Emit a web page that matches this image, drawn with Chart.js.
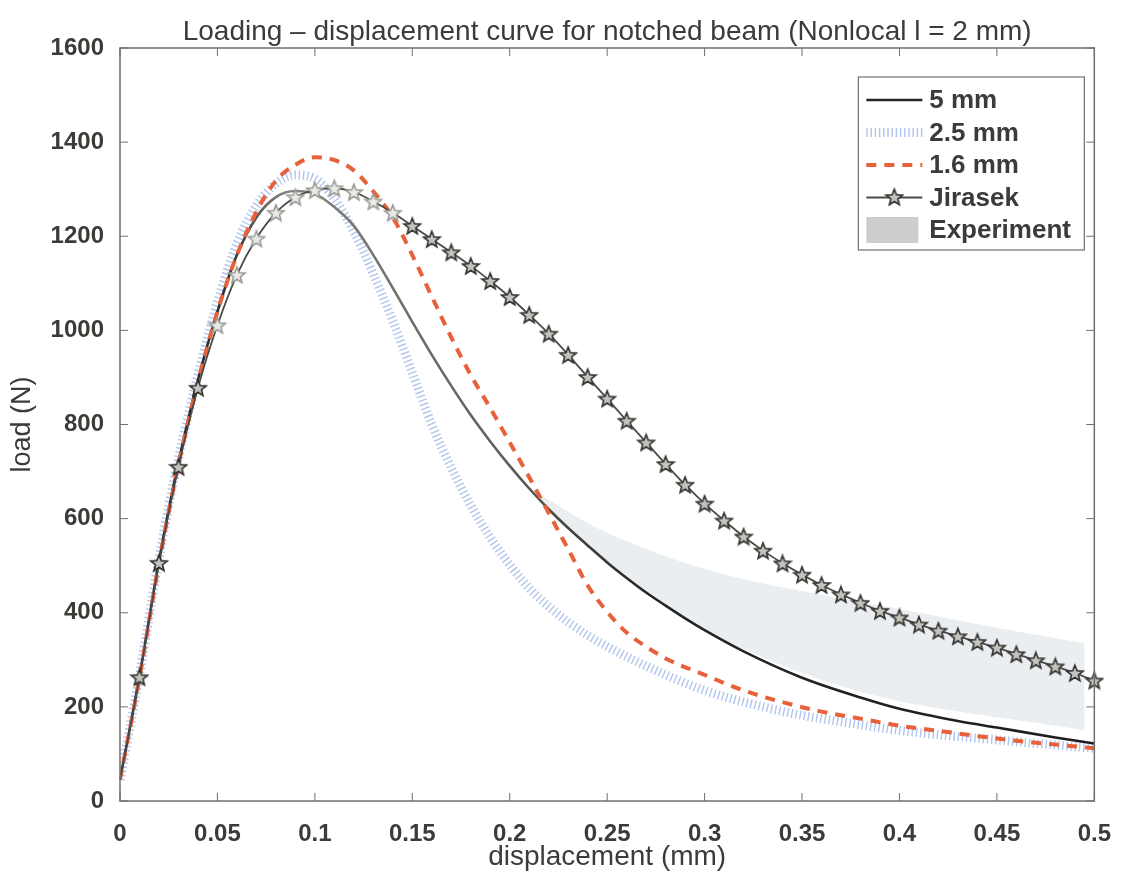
<!DOCTYPE html>
<html>
<head>
<meta charset="utf-8">
<title>Loading - displacement curve</title>
<script src="https://cdn.jsdelivr.net/npm/chart.js@4"></script>
<style>
  html, body { margin: 0; padding: 0; background: #fff; }
</style>
</head>
<body>
<canvas id="loadChart" width="1122" height="874"></canvas>
<script>
// values (displacement in mm, load in N)
var disp5 = [0, 0.01, 0.02, 0.03, 0.04, 0.05, 0.06, 0.07, 0.08, 0.09, 0.10, 0.11, 0.12, 0.13, 0.14, 0.15, 0.16, 0.17, 0.18, 0.19, 0.20, 0.21, 0.22, 0.23, 0.24, 0.25, 0.26, 0.27, 0.28, 0.29, 0.30, 0.32, 0.35, 0.38, 0.40, 0.43, 0.45, 0.48, 0.50]
var load5 = [45, 265, 510, 720, 895, 1040, 1160, 1240, 1283, 1296, 1290, 1262, 1222, 1160, 1090, 1018, 948, 882, 820, 764, 712, 664, 620, 580, 543, 507, 474, 443, 415, 388, 363, 318, 262, 220, 196, 170, 156, 135, 122]

var disp25 = [0, 0.01, 0.02, 0.03, 0.04, 0.05, 0.06, 0.07, 0.08, 0.09, 0.10, 0.11, 0.12, 0.13, 0.14, 0.15, 0.16, 0.17, 0.18, 0.19, 0.20, 0.21, 0.22, 0.23, 0.24, 0.25, 0.27, 0.30, 0.33, 0.35, 0.38, 0.40, 0.43, 0.45, 0.48, 0.50]
var load25 = [45, 268, 515, 728, 905, 1060, 1185, 1265, 1312, 1330, 1322, 1280, 1210, 1120, 1020, 910, 800, 708, 628, 560, 502, 452, 413, 380, 352, 328, 287, 235, 200, 182, 162, 150, 137, 130, 119, 112]

var disp16 = [0, 0.01, 0.02, 0.03, 0.04, 0.05, 0.06, 0.07, 0.08, 0.09, 0.10, 0.11, 0.12, 0.13, 0.14, 0.15, 0.16, 0.17, 0.18, 0.19, 0.20, 0.21, 0.22, 0.23, 0.24, 0.25, 0.26, 0.27, 0.28, 0.30, 0.32, 0.34, 0.36, 0.38, 0.40, 0.42, 0.44, 0.46, 0.48, 0.50]
var load16 = [45, 262, 505, 715, 890, 1040, 1160, 1252, 1318, 1352, 1368, 1362, 1340, 1295, 1240, 1160, 1072, 985, 905, 835, 762, 688, 612, 535, 458, 402, 358, 328, 303, 268, 235, 210, 190, 175, 160, 149, 138, 128, 120, 112]

var dispJir = [0, 0.01, 0.02, 0.03, 0.04, 0.05, 0.06, 0.07, 0.08, 0.09, 0.10, 0.11, 0.12, 0.13, 0.14, 0.15, 0.16, 0.17, 0.18, 0.19, 0.20, 0.21, 0.22, 0.23, 0.24, 0.25, 0.26, 0.27, 0.28, 0.29, 0.30, 0.31, 0.32, 0.33, 0.34, 0.35, 0.36, 0.37, 0.38, 0.39, 0.40, 0.41, 0.42, 0.43, 0.44, 0.45, 0.46, 0.47, 0.48, 0.49, 0.50]
var loadJir = [45, 263, 506, 710, 878, 1011, 1118, 1195, 1250, 1283, 1298, 1302, 1294, 1274, 1250, 1222, 1194, 1166, 1137, 1105, 1071, 1033, 993, 948, 901, 855, 808, 762, 716, 672, 632, 596, 562, 532, 505, 481, 459, 439, 421, 404, 390, 375, 362, 350, 338, 326, 312, 299, 286, 272, 256]

var dispExp = [0.21, 0.22, 0.24, 0.26, 0.28, 0.30, 0.33, 0.35, 0.38, 0.40, 0.43, 0.45, 0.48, 0.495]
var expUpper = [668, 640, 590, 552, 520, 493, 462, 446, 423, 408, 384, 368, 346, 335]
var expLower = [664, 620, 543, 474, 415, 363, 305, 272, 232, 212, 190, 178, 160, 150]

var xTicks = [0, 0.05, 0.1, 0.15, 0.2, 0.25, 0.3, 0.35, 0.4, 0.45, 0.5]
var yTicks = [0, 200, 400, 600, 800, 1000, 1200, 1400, 1600]

var textColor = '#3a3c38'
var fontFamily = "'Liberation Sans', Arial, Helvetica, sans-serif"

function toPoints(xs, ys){
    return xs.map(function(x, i){ return {x: x, y: ys[i]} })
}

// five point star marker like matlab 'p'
function makeStar(fill, stroke){
    var c = document.createElement('canvas')
    c.width = 20
    c.height = 20
    var g = c.getContext('2d')
    g.beginPath()
    for (var i = 0; i < 10; i++){
        var r = (i % 2 == 0) ? 8.5 : 3.7
        var a = -Math.PI / 2 + i * Math.PI / 5
        var px = 10 + r * Math.cos(a)
        var py = 10.8 + r * Math.sin(a)
        if (i == 0) g.moveTo(px, py)
        else g.lineTo(px, py)
    }
    g.closePath()
    g.fillStyle = fill
    g.fill()
    g.lineWidth = 1.6
    g.strokeStyle = stroke
    g.stroke()
    return c
}
var darkStar = makeStar('#c4c4be', '#2f2f2d')
var lightStar = makeStar('#ebebe6', '#9a9a96')

// the scan is faded round the peak, so the 5 mm line goes grey there
function fadedLine(ctx){
    var chart = ctx.chart
    if (!chart.chartArea) return '#262626'
    var xs = chart.scales.x
    var g = chart.ctx.createLinearGradient(xs.getPixelForValue(0), 0, xs.getPixelForValue(0.5), 0)
    g.addColorStop(0, '#262626')
    g.addColorStop(0.11, '#2e2e2e')
    g.addColorStop(0.17, '#85857f')
    g.addColorStop(0.40, '#5e5e5a')
    g.addColorStop(0.54, '#262626')
    g.addColorStop(1, '#1e1e1e')
    return g
}

var framePlugin = {
    id: 'frame',
    afterDatasetsDraw: function(chart){
        var ctx = chart.ctx
        var a = chart.chartArea
        var xs = chart.scales.x
        var ys = chart.scales.y
        ctx.save()
        ctx.strokeStyle = '#6f6f6b'
        ctx.lineWidth = 1.5
        ctx.strokeRect(a.left, a.top, a.right - a.left, a.bottom - a.top)
        ctx.lineWidth = 1
        ctx.beginPath()
        xs.ticks.forEach(function(t){
            var px = xs.getPixelForValue(t.value)
            ctx.moveTo(px, a.bottom); ctx.lineTo(px, a.bottom - 8)
            ctx.moveTo(px, a.top); ctx.lineTo(px, a.top + 8)
        })
        ys.ticks.forEach(function(t){
            var py = ys.getPixelForValue(t.value)
            ctx.moveTo(a.left, py); ctx.lineTo(a.left + 8, py)
            ctx.moveTo(a.right, py); ctx.lineTo(a.right - 8, py)
        })
        ctx.stroke()
        ctx.restore()
    }
}

// boxed legend inside the plot, top right
var boxLegend = {
    id: 'boxLegend',
    afterDraw: function(chart){
        var ctx = chart.ctx
        var a = chart.chartArea
        var ds = chart.data.datasets
        var order = [2, 3, 1, 0, 4]
        var bx = a.right - 236
        var by = a.top + 29
        var bw = 226
        var bh = 173
        ctx.save()
        ctx.fillStyle = '#ffffff'
        ctx.fillRect(bx, by, bw, bh)
        ctx.strokeStyle = '#6f6f6b'
        ctx.lineWidth = 1.2
        ctx.strokeRect(bx, by, bw, bh)
        ctx.font = 'bold 26px ' + fontFamily
        ctx.textBaseline = 'middle'
        for (var i = 0; i < order.length; i++){
            var d = ds[order[i]]
            var cy = by + 23 + i * 32.5
            var x1 = bx + 8
            var x2 = bx + 64
            if (order[i] == 4){
                ctx.fillStyle = '#cdcdcb'
                ctx.fillRect(x1, cy - 13, x2 - x1 - 4, 26)
            } else {
                ctx.beginPath()
                ctx.setLineDash(d.borderDash || [])
                ctx.lineWidth = d.borderWidth
                ctx.strokeStyle = order[i] == 2 ? '#262626' : d.borderColor
                ctx.moveTo(x1, cy)
                ctx.lineTo(x2, cy)
                ctx.stroke()
                ctx.setLineDash([])
                if (order[i] == 0){
                    ctx.drawImage(darkStar, (x1 + x2) / 2 - 10, cy - 10.5)
                }
            }
            ctx.fillStyle = textColor
            ctx.fillText(d.label, bx + 71, cy + 1)
        }
        ctx.restore()
    }
}

var chartCtx = document.getElementById('loadChart').getContext('2d')
var loadChart = new Chart(chartCtx, {
    type: 'line',
    data: {
        datasets: [{
            label: 'Jirasek',
            data: toPoints(dispJir, loadJir),
            borderColor: '#4a4a46',
            borderWidth: 1.8,
            cubicInterpolationMode: 'monotone',
            pointStyle: function(c){
                var v = dispJir[c.dataIndex]
                return (v >= 0.05 && v <= 0.14) ? lightStar : darkStar
            },
            pointRadius: function(c){ return c.dataIndex == 0 ? 0 : 5 },
            clip: 12
        }, {
            label: '1.6 mm',
            data: toPoints(disp16, load16),
            borderColor: '#e8613a',
            borderWidth: 4,
            borderDash: [10, 8],
            cubicInterpolationMode: 'monotone',
            pointRadius: 0
        }, {
            label: '5 mm',
            data: toPoints(disp5, load5),
            borderColor: fadedLine,
            borderWidth: 2.6,
            cubicInterpolationMode: 'monotone',
            pointRadius: 0
        }, {
            label: '2.5 mm',
            data: toPoints(disp25, load25),
            borderColor: 'rgba(145,175,232,0.72)',
            borderWidth: 9,
            borderDash: [1.4, 2.8],
            borderCapStyle: 'butt',
            cubicInterpolationMode: 'monotone',
            pointRadius: 0
        }, {
            label: 'Experiment',
            data: toPoints(dispExp, expUpper),
            borderWidth: 0,
            backgroundColor: '#ebeef0',
            fill: '+1',
            cubicInterpolationMode: 'monotone',
            pointRadius: 0
        }, {
            label: 'Experiment lower',
            data: toPoints(dispExp, expLower),
            borderWidth: 0,
            fill: false,
            cubicInterpolationMode: 'monotone',
            pointRadius: 0
        }]
    },
    options: {
        responsive: false,
        animation: false,
        layout: { padding: { left: 0, right: 24, top: 0, bottom: 0 } },
        plugins: {
            legend: { display: false },
            tooltip: { enabled: false },
            title: {
                display: true,
                fullSize: false,
                text: 'Loading \u2013 displacement curve for notched beam (Nonlocal l = 2 mm)',
                color: textColor,
                font: { family: fontFamily, size: 28, weight: 'normal', lineHeight: 1 },
                padding: { top: 18, bottom: 2 }
            }
        },
        scales: {
            x: {
                type: 'linear',
                min: 0,
                max: 0.5,
                afterBuildTicks: function(s){ s.ticks = xTicks.map(function(v){ return {value: v} }) },
                afterFit: function(s){ s.height = 73 },
                grid: { display: false },
                border: { display: false },
                ticks: {
                    color: textColor,
                    padding: 11,
                    maxRotation: 0,
                    font: { family: fontFamily, size: 24, weight: 'bold' },
                    callback: function(v){ return String(+(+v).toFixed(2)) }
                },
                title: {
                    display: true,
                    text: 'displacement (mm)',
                    color: textColor,
                    padding: { top: 0, bottom: 0 },
                    font: { family: fontFamily, size: 28, weight: 'normal' }
                }
            },
            y: {
                min: 0,
                max: 1600,
                afterBuildTicks: function(s){ s.ticks = yTicks.map(function(v){ return {value: v} }) },
                afterFit: function(s){ s.width = 120 },
                grid: { display: false },
                border: { display: false },
                ticks: {
                    color: textColor,
                    padding: 8,
                    font: { family: fontFamily, size: 24, weight: 'bold' },
                    callback: function(v){ return String(v) }
                },
                title: {
                    display: true,
                    text: 'load (N)',
                    color: textColor,
                    padding: { top: 6, bottom: 0 },
                    font: { family: fontFamily, size: 27, weight: 'normal' }
                }
            }
        }
    },
    plugins: [framePlugin, boxLegend]
})
</script>
</body>
</html>
